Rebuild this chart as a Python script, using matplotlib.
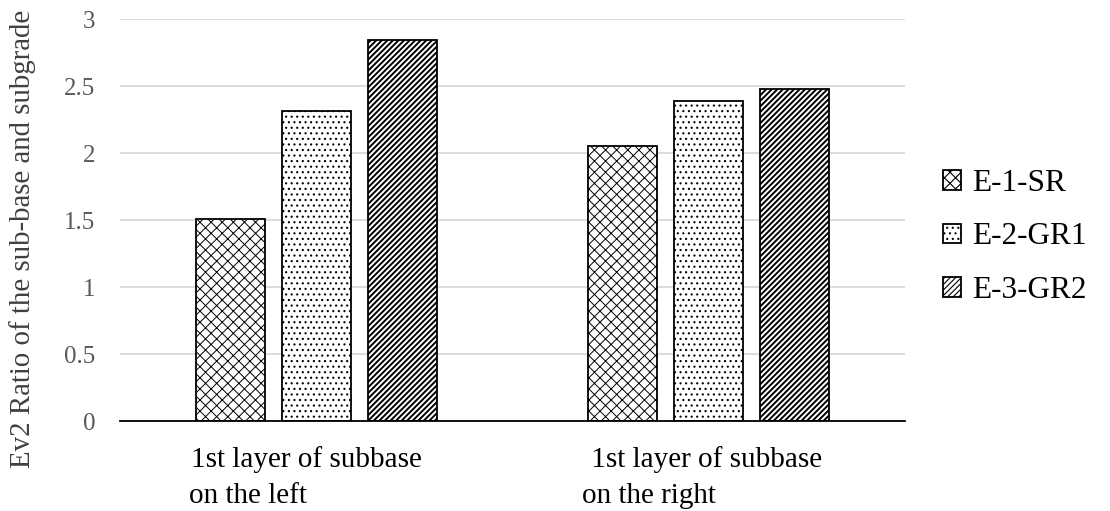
import matplotlib
matplotlib.use("Agg")
import matplotlib.pyplot as plt
import numpy as np

categories = ["1st layer of subbase\non the left", " 1st layer of subbase\non the right"]
series = ["E-1-SR", "E-2-GR1", "E-3-GR2"]
e1_sr = [1.51, 2.05]
e2_gr1 = [2.31, 2.39]
e3_gr2 = [2.84, 2.48]
yticks = [0, 0.5, 1, 1.5, 2, 2.5, 3]
ytick_labels = ["0", "0.5", "1", "1.5", "2", "2.5", "3"]

plt.rcParams["font.family"] = ["Liberation Serif", "DejaVu Serif"]

fig = plt.figure(figsize=(11.1, 5.11), dpi=100)
# axes box in pixels: x 120..905, y 19..421
ax = fig.add_axes([120 / 1110, 1 - 421 / 511, 785 / 1110, 402 / 511])

x = np.arange(len(categories))
width = 0.176
step = 0.219
hatches = ["xxx", "...", "//////"]
hatch_lw = [0.7, 0.8, 1.4]
values = [e1_sr, e2_gr1, e3_gr2]

handles = []
for i, (name, vals, h) in enumerate(zip(series, values, hatches)):
    # patches pick up hatch.linewidth when they are created
    plt.rcParams["hatch.linewidth"] = hatch_lw[i]
    bars = ax.bar(x + (i - 1) * step, vals, width, facecolor="white",
                  edgecolor="black", hatch=h, linewidth=1.3, label=name, zorder=3)
    handles.append(bars)
plt.rcParams["hatch.linewidth"] = 0.8

ax.set_xlim(-0.5, 1.5)
ax.set_ylim(0, 3)
ax.set_yticks(yticks)
ax.set_yticklabels(ytick_labels)
ax.set_xticks([])
ax.tick_params(axis="y", length=0, pad=18, labelsize=18, labelcolor="#595959")
ax.yaxis.grid(True, color="#d9d9d9", linewidth=1.3, zorder=0)
for s in ["top", "right", "left"]:
    ax.spines[s].set_visible(False)
ax.spines["bottom"].set_linewidth(1.3)
ax.spines["bottom"].set_zorder(4)

# two-line category labels, left aligned under each group
for xi, lab in zip(x, categories):
    line1, line2 = lab.split("\n")
    ax.text(xi - 0.318, -0.1144, line1, transform=ax.get_xaxis_transform(),
            ha="left", va="baseline", fontsize=21)
    ax.text(xi - 0.323, -0.204, line2, transform=ax.get_xaxis_transform(),
            ha="left", va="baseline", fontsize=21)

fig.text(23 / 1110, 1 - 239 / 511, "Ev2 Ratio of the sub-base and subgrade",
         rotation=90, ha="center", va="center", fontsize=20.8, color="#404040")

fig.legend(handles=handles, labels=series, loc="center left",
           bbox_to_anchor=(943 / 1110, 1 - 237 / 511), frameon=False,
           fontsize=22.5, handlelength=0.58, handleheight=0.58,
           handletextpad=0.35, labelspacing=0.78, borderpad=0, borderaxespad=0)

fig.savefig("out.png", dpi=100)
